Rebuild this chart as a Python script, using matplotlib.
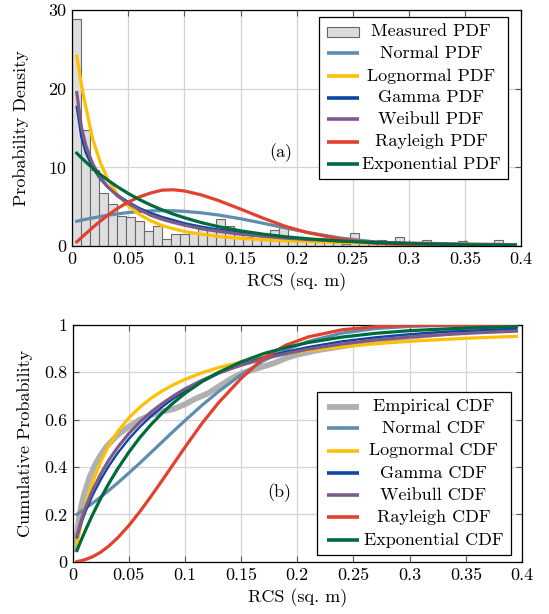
import numpy as np
import matplotlib
matplotlib.use("Agg")
import matplotlib.pyplot as plt
from matplotlib.patches import Rectangle
from matplotlib.ticker import FuncFormatter

# ---- data ----
# histogram of measured RCS (bin width 0.008 sq. m, starting at 0)
bin_width = 0.008
hist_heights = [28.8, 14.8, 9.7, 6.8, 5.3, 3.8, 3.7, 3.2, 1.95, 2.5,
                0.95, 1.5, 1.5, 1.6, 2.2, 2.1, 3.4, 2.5, 1.5, 1.2,
                1.0, 0.9, 2.0, 2.4, 0.9, 0.8, 0.6, 0.5, 0.5, 0.4,
                0.3, 1.7, 0.4, 0.3, 0.8, 0.3, 1.2, 0.3, 0.2, 0.8,
                0.2, 0.2, 0.1, 0.6, 0.1, 0.1, 0.1, 0.8, 0.1, 0.0]

# sample points for the fitted curves
rcs = [0.004, 0.008, 0.012, 0.018, 0.025, 0.032, 0.04, 0.05, 0.06, 0.07,
       0.08, 0.09, 0.1, 0.115, 0.13, 0.15, 0.17, 0.19, 0.21, 0.24,
       0.27, 0.3, 0.33, 0.36, 0.395]

pdf_normal = [3.15, 3.28, 3.40, 3.57, 3.75, 3.92, 4.08, 4.26, 4.39, 4.47,
              4.50, 4.48, 4.41, 4.22, 3.95, 3.47, 2.90, 2.30, 1.72, 1.00,
              0.52, 0.24, 0.10, 0.04, 0.01]
pdf_lognormal = [24.1, 20.6, 17.7, 13.7, 10.6, 8.4, 6.6, 5.1, 4.0, 3.2,
                 2.6, 2.2, 1.85, 1.5, 1.22, 0.97, 0.80, 0.67, 0.57, 0.45,
                 0.36, 0.30, 0.25, 0.21, 0.17]
pdf_gamma = [17.7, 13.9, 11.9, 10.0, 8.5, 7.4, 6.5, 5.6, 4.8, 4.2,
             3.7, 3.3, 2.9, 2.46, 2.09, 1.68, 1.36, 1.1, 0.9, 0.67,
             0.5, 0.37, 0.28, 0.21, 0.15]
pdf_weibull = [19.5, 15.2, 12.8, 10.5, 8.7, 7.5, 6.4, 5.4, 4.6, 3.9,
               3.4, 3.0, 2.65, 2.2, 1.87, 1.51, 1.23, 1.01, 0.83, 0.63,
               0.49, 0.38, 0.30, 0.23, 0.18]
pdf_rayleigh = [0.53, 1.05, 1.57, 2.33, 3.17, 3.95, 4.75, 5.6, 6.25, 6.75,
                7.1, 7.15, 7.0, 6.5, 5.8, 4.7, 3.55, 2.5, 1.7, 0.85,
                0.36, 0.13, 0.04, 0.01, 0.0]
pdf_exponential = [11.8, 11.23, 10.69, 9.92, 9.09, 8.34, 7.55, 6.67, 5.89, 5.21,
                   4.6, 4.06, 3.59, 2.98, 2.47, 1.93, 1.51, 1.18, 0.92, 0.63,
                   0.44, 0.3, 0.21, 0.14, 0.09]

cdf_normal = [0.200, 0.213, 0.227, 0.248, 0.273, 0.300, 0.332, 0.374, 0.417, 0.462,
              0.507, 0.552, 0.596, 0.660, 0.719, 0.790, 0.849, 0.896, 0.931, 0.966,
              0.985, 0.994, 0.998, 0.999, 1.0]
cdf_lognormal = [0.076, 0.167, 0.244, 0.338, 0.422, 0.488, 0.548, 0.607, 0.653, 0.691,
                 0.722, 0.748, 0.770, 0.798, 0.820, 0.844, 0.864, 0.880, 0.893, 0.908,
                 0.921, 0.931, 0.939, 0.946, 0.952]
cdf_gamma = [0.103, 0.166, 0.217, 0.282, 0.346, 0.402, 0.458, 0.518, 0.570, 0.615,
             0.655, 0.690, 0.721, 0.761, 0.795, 0.833, 0.863, 0.887, 0.907, 0.931,
             0.948, 0.961, 0.971, 0.977, 0.984]
cdf_weibull = [0.110, 0.179, 0.234, 0.303, 0.370, 0.427, 0.482, 0.541, 0.590, 0.633,
               0.669, 0.701, 0.730, 0.766, 0.797, 0.830, 0.857, 0.879, 0.898, 0.920,
               0.937, 0.949, 0.959, 0.967, 0.974]
cdf_rayleigh = [0.001, 0.004, 0.010, 0.021, 0.040, 0.065, 0.100, 0.152, 0.212, 0.277,
                0.345, 0.414, 0.483, 0.583, 0.672, 0.774, 0.860, 0.915, 0.950, 0.980,
                0.993, 0.998, 1.0, 1.0, 1.0]
cdf_exponential = [0.048, 0.094, 0.138, 0.200, 0.267, 0.328, 0.391, 0.462, 0.525, 0.580,
                   0.629, 0.672, 0.711, 0.760, 0.800, 0.844, 0.879, 0.905, 0.926, 0.949,
                   0.965, 0.976, 0.983, 0.989, 0.993]

# empirical CDF of the measurements
ecdf_x = [0.002, 0.004, 0.006, 0.008, 0.01, 0.015, 0.02, 0.025, 0.03, 0.04,
          0.05, 0.06, 0.07, 0.08, 0.09, 0.1, 0.11, 0.12, 0.13, 0.14,
          0.15, 0.16, 0.17, 0.18, 0.19, 0.2, 0.21, 0.22, 0.24, 0.26,
          0.28, 0.3, 0.33, 0.36, 0.39]
ecdf_y = [0.04, 0.12, 0.19, 0.24, 0.28, 0.355, 0.41, 0.45, 0.485, 0.535,
          0.57, 0.60, 0.62, 0.635, 0.645, 0.665, 0.69, 0.71, 0.74, 0.77,
          0.795, 0.81, 0.825, 0.84, 0.86, 0.875, 0.885, 0.895, 0.91, 0.925,
          0.94, 0.95, 0.965, 0.98, 0.99]

names = ["Normal", "Lognormal", "Gamma", "Weibull", "Rayleigh", "Exponential"]
colors = ["#5f8db0", "#ffc000", "#0c45a3", "#7e5a8a", "#e2412f", "#006a3c"]
widths = [2.3, 2.3, 1.7, 2.3, 2.3, 2.3]
pdfs = [pdf_normal, pdf_lognormal, pdf_gamma, pdf_weibull, pdf_rayleigh, pdf_exponential]
cdfs = [cdf_normal, cdf_lognormal, cdf_gamma, cdf_weibull, cdf_rayleigh, cdf_exponential]

# ---- style ----
plt.rcParams['font.family'] = 'serif'
plt.rcParams['font.serif'] = ['cmr10']
plt.rcParams['mathtext.fontset'] = 'cm'
plt.rcParams['axes.unicode_minus'] = False
plt.rcParams['axes.formatter.use_mathtext'] = True
FS = 13

fig = plt.figure(figsize=(5.49, 6.14), dpi=100)
ax1 = fig.add_axes([0.1317, 0.5993, 0.8173, 0.3844])
ax2 = fig.add_axes([0.1321, 0.0852, 0.8188, 0.3855])

fmt = FuncFormatter(lambda v, p: "%g" % round(v, 3))


def style(ax):
    ax.set_xlim(0, 0.4)
    ax.set_xticks(np.arange(0, 0.401, 0.05))
    ax.xaxis.set_major_formatter(fmt)
    ax.yaxis.set_major_formatter(fmt)
    ax.grid(True, color='#d4d4d4', lw=0.9)
    ax.set_axisbelow(True)
    ax.tick_params(direction='in', top=True, right=True, length=4, width=0.8,
                   color='#555555', labelsize=FS, pad=4)
    for s in ax.spines.values():
        s.set_linewidth(0.9)
    ax.set_xlabel("RCS (sq. m)", fontsize=FS, labelpad=4)


def legend(ax, box, rows, hx, tx, entries):
    x0, y0, x1, y1 = box
    ax.add_patch(Rectangle((x0, y0), x1 - x0, y1 - y0, transform=ax.transAxes,
                           facecolor='white', edgecolor='black', lw=0.9,
                           zorder=10, clip_on=False))
    for y, (label, kind, color, lw) in zip(rows, entries):
        if kind == 'bar':
            ax.add_patch(Rectangle((hx[0], y - 0.022), hx[1] - hx[0], 0.044,
                                   transform=ax.transAxes, facecolor='#dcdcdc',
                                   edgecolor='#666666', lw=0.8, zorder=11,
                                   clip_on=False))
        else:
            ax.plot(hx, [y, y], transform=ax.transAxes, color=color, lw=lw,
                    solid_capstyle='butt', zorder=11, clip_on=False)
        ax.text(tx, y, label, transform=ax.transAxes, ha='center', va='center',
                fontsize=FS, zorder=12)


# ---- (a) PDFs ----
edges = np.arange(len(hist_heights)) * bin_width
ax1.bar(edges, hist_heights, width=bin_width, align='edge', color='#dedede',
        edgecolor='#6a6a6a', lw=0.8, zorder=2)
for vals, c, w in zip(pdfs, colors, widths):
    ax1.plot(rcs, vals, color=c, lw=w, zorder=3)
style(ax1)
ax1.set_ylim(0, 30)
ax1.set_yticks([0, 10, 20, 30])
ax1.set_ylabel("Probability Density", fontsize=FS, labelpad=14)
ax1.text(0.465, 0.395, "(a)", transform=ax1.transAxes, fontsize=FS,
         ha='center', va='center')
entries1 = [("Measured PDF", 'bar', None, 0)] + \
    [(n + " PDF", 'line', c, 2.6) for n, c in zip(names, colors)]
legend(ax1, (0.550, 0.284, 0.970, 0.972),
       [0.908, 0.817, 0.720, 0.628, 0.537, 0.442, 0.347],
       (0.567, 0.640), 0.7995, entries1)

# ---- (b) CDFs ----
ax2.plot(ecdf_x, ecdf_y, color='#b0b0b0', lw=4.2, zorder=2,
         solid_capstyle='butt')
for vals, c, w in zip(cdfs, colors, widths):
    ax2.plot(rcs, vals, color=c, lw=w, zorder=3)
style(ax2)
ax2.set_ylim(0, 1)
ax2.set_yticks([0, 0.2, 0.4, 0.6, 0.8, 1])
ax2.set_ylabel("Cumulative Probability", fontsize=FS, labelpad=8)
ax2.text(0.46, 0.29, "(b)", transform=ax2.transAxes, fontsize=FS,
         ha='center', va='center')
entries2 = [("Empirical CDF", 'line', '#b0b0b0', 4.2)] + \
    [(n + " CDF", 'line', c, 2.6) for n, c in zip(names, colors)]
legend(ax2, (0.5446, 0.028, 0.975, 0.718),
       [0.655, 0.564, 0.469, 0.373, 0.282, 0.188, 0.092],
       (0.5655, 0.638), 0.803, entries2)

fig.savefig("out.png", dpi=100)
